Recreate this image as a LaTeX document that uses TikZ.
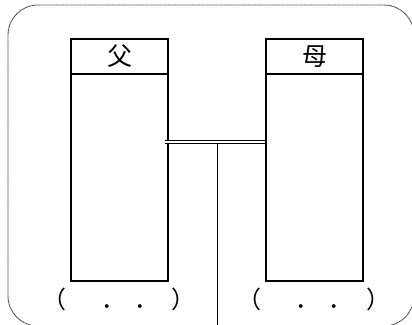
\documentclass[tikz,border=0pt]{standalone}
\usepackage{fontspec}
\setmainfont{Noto Sans CJK SC}
\begin{document}
\begin{tikzpicture}[x=1pt,y=-1pt,
  boxpart/.style={draw=black,line width=1.1pt,inner sep=0pt,minimum width=97pt},
  headtext/.style={font=\fontsize{25}{25}\selectfont},
  dotlabel/.style={inner sep=0pt,font=\fontsize{24}{24}\selectfont},
  frame/.style={draw=black!75,line width=0.9pt,dash pattern=on 1.2pt off 0.5pt,rounded corners=30pt},
  link/.style={line width=1.1pt}]
\useasboundingbox (0,0) rectangle (412,324);
\clip (0,0) rectangle (412,324);
\fill[white] (0,0) rectangle (412,324);
\draw[frame] (8,5) rectangle (414,326);
% father
\node[boxpart,minimum height=35pt,headtext] (fahead) at (119.5,56.5) {父};
\node[boxpart,minimum height=207pt] (fabody) at (119.5,177.5) {};
% mother
\node[boxpart,minimum height=35pt,headtext] (muhead) at (314.5,56.5) {母};
\node[boxpart,minimum height=207pt] (mubody) at (314.5,177.5) {};
% labels
\node[dotlabel] (falab) at (119,299) {\makebox[0pt]{（}\hspace{58.4pt}\makebox[0pt]{．}\hspace{33pt}\makebox[0pt]{．}\hspace{37pt}\makebox[0pt]{）}};
\node[dotlabel] (mulab) at (314,299) {\makebox[0pt]{（}\hspace{57.4pt}\makebox[0pt]{．}\hspace{33pt}\makebox[0pt]{．}\hspace{38pt}\makebox[0pt]{）}};
% marriage line
\coordinate (j) at (217.5,142);
\coordinate (jb) at (217.5,143.3);
\coordinate (child) at (217.5,326);
\draw[double=white,double distance=1.6pt,line width=0.9pt] ([xshift=-4pt]fabody.east |- j) -- (mubody.west |- j);
\draw[link] (jb) -- (child);
\end{tikzpicture}
\end{document}
